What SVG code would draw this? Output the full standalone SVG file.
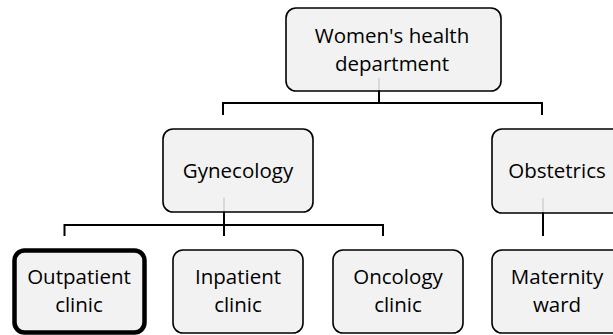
<svg xmlns="http://www.w3.org/2000/svg" width="613" height="335" viewBox="0 0 613 335">
<style>
.box{fill:#f2f2f2;stroke:#000;stroke-width:1.6}
.sel{fill:#f2f2f2;stroke:#000;stroke-width:4.5}
.t{font-family:"Open Sans","Noto Sans",sans-serif;font-size:20.5px;fill:#000;text-anchor:middle}
.c{fill:none;stroke:#000;stroke-width:2}
.g{stroke:#d9d9d9;stroke-width:2}
</style>
<rect width="613" height="335" fill="#fff"/>
<g id="womens-health">
<rect class="box" x="286" y="8" width="215" height="83" rx="10"/>
<text class="t" x="392" y="42.5">Women's health</text>
<text class="t" x="392" y="70.5">department</text>
</g>
<g id="gynecology">
<rect class="box" x="163" y="129" width="150" height="83" rx="10"/>
<text class="t" x="238" y="178">Gynecology</text>
</g>
<g id="obstetrics">
<rect class="box" x="492" y="129" width="140" height="84" rx="10"/>
<text class="t" x="557" y="178">Obstetrics</text>
</g>
<g id="outpatient">
<rect class="sel" x="14.5" y="250.5" width="130" height="82" rx="10"/>
<text class="t" x="79" y="284">Outpatient</text>
<text class="t" x="79" y="312">clinic</text>
</g>
<g id="inpatient">
<rect class="box" x="173" y="250" width="130" height="83" rx="10"/>
<text class="t" x="238" y="284">Inpatient</text>
<text class="t" x="238" y="312">clinic</text>
</g>
<g id="oncology">
<rect class="box" x="333" y="250" width="130" height="83" rx="10"/>
<text class="t" x="398" y="284">Oncology</text>
<text class="t" x="398" y="312">clinic</text>
</g>
<g id="maternity">
<rect class="box" x="492" y="250" width="140" height="83" rx="10"/>
<text class="t" x="557" y="284">Maternity</text>
<text class="t" x="557" y="312">ward</text>
</g>
<g id="connectors">
<line class="g" x1="379" y1="78" x2="379" y2="90"/>
<line class="g" x1="224" y1="198" x2="224" y2="211"/>
<line class="g" x1="543" y1="198" x2="543" y2="212"/>
<polyline class="c" points="223,115 223,103 542,103 542,115"/>
<line class="c" x1="379" y1="90.5" x2="379" y2="103"/>
<polyline class="c" points="64.5,236 64.5,225 383,225 383,236"/>
<line class="c" x1="224" y1="211.5" x2="224" y2="236"/>
<line class="c" x1="543" y1="212.5" x2="543" y2="236"/>
</g>
</svg>
